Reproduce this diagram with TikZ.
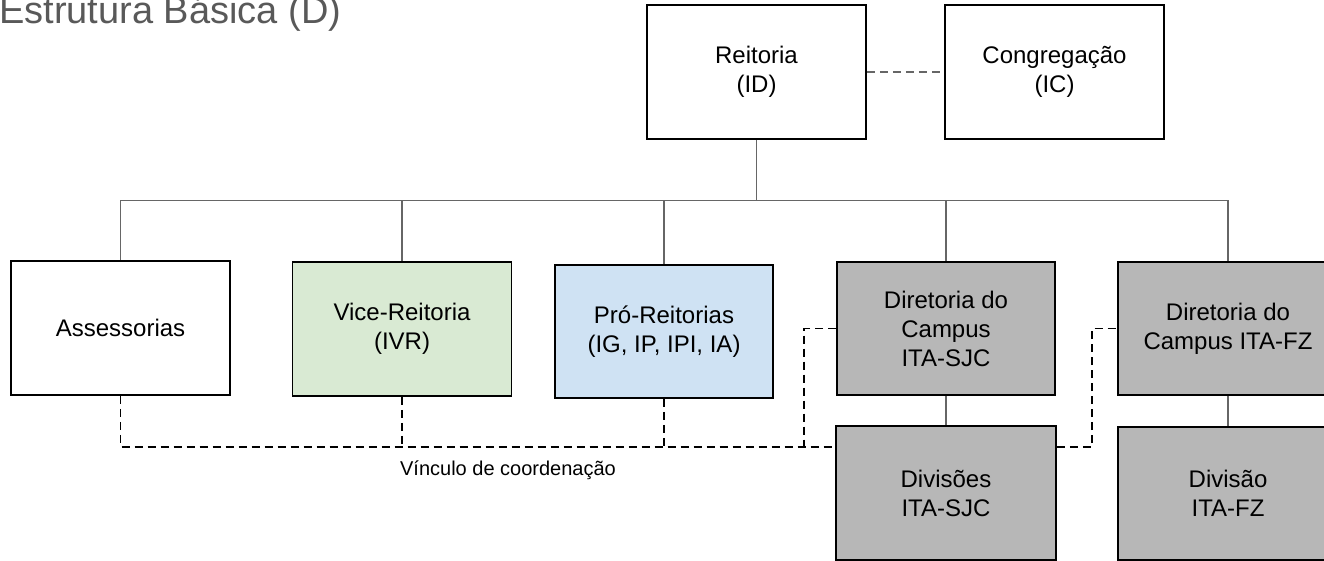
\documentclass[tikz,border=0pt]{standalone}
\usepackage{fontspec}
\setmainfont{Liberation Sans}
\usetikzlibrary{calc}
\definecolor{vicegreen}{HTML}{D9EAD3}
\definecolor{problue}{HTML}{CFE2F3}
\definecolor{campusgray}{HTML}{B7B7B7}
\definecolor{treegray}{HTML}{666666}
\definecolor{titlegray}{HTML}{595959}
\tikzset{
  orgbox/.style={draw=black, line width=1.6pt, minimum width=219pt, minimum height=134pt,
    align=center, inner sep=2pt, font=\fontsize{24}{29}\selectfont},
  treeline/.style={draw=treegray, line width=1.4pt},
  coordline/.style={draw=black, line width=1.8pt, dash pattern=on 8pt off 5pt},
  peerline/.style={draw=treegray, line width=1.6pt, dash pattern=on 8pt off 5pt},
}
\begin{document}
\begin{tikzpicture}[x=1pt,y=-1pt]
\useasboundingbox (0,0) rectangle (1324,561);
\clip (0,0) rectangle (1324,561);
\node[anchor=base west, text=titlegray, font=\fontsize{38}{40}\selectfont, inner sep=0pt] (title) at (-1,24) {Estrutura Básica (D)};

\node[orgbox] (reit) at (756.5,72) {Reitoria\\(ID)};
\node[orgbox] (cong) at (1054.5,72) {Congregação\\(IC)};

\node[orgbox] (ass) at (120.5,328) {Assessorias};
\node[orgbox, fill=vicegreen] (vice) at (402,329) {Vice-Reitoria\\(IVR)};
\node[orgbox, fill=problue, minimum width=218pt, minimum height=133pt] (pro) at (664,331.5) {Pró-Reitorias\\(IG, IP, IPI, IA)};
\node[orgbox, fill=campusgray, minimum width=218pt, minimum height=133pt] (dsjc) at (946,328.5) {Diretoria do\\Campus\\ITA-SJC};
\node[orgbox, fill=campusgray, minimum width=220pt, minimum height=133pt] (dfz) at (1228,328.5) {Diretoria do\\Campus ITA-FZ};
\node[orgbox, fill=campusgray, minimum width=220pt] (divs) at (946,493) {Divisões\\ITA-SJC};
\node[orgbox, fill=campusgray, minimum width=220pt, minimum height=133pt] (divfz) at (1228,493.5) {Divisão\\ITA-FZ};

\node[font=\fontsize{20}{24}\selectfont, inner sep=0pt] (vinc) at (508,470) {Vínculo de coordenação};

% peer link
\draw[peerline] (reit.east) -- (cong.west);

% tree
\coordinate (bus) at ($(reit.south)+(0,61)$);
\draw[treeline] (reit.south) -- (bus);
\draw[treeline] (bus) -| (ass.north);
\draw[treeline] (bus) -| (vice.north);
\draw[treeline] (bus) -| (pro.north);
\draw[treeline] (bus) -| (dsjc.north);
\draw[treeline] (bus) -| (dfz.north);
\draw[treeline] (dsjc.south) -- (divs.north);
\draw[treeline] (dfz.south) -- (divfz.north);

% coordination links
\coordinate (lk) at ($(ass.south)+(0,51)$);
\draw[coordline] (ass.south) -- (lk) -- (lk -| divs.west);
\draw[coordline] (vice.south) -- (vice.south |- lk);
\draw[coordline] (pro.south) -- (pro.south |- lk);
\draw[coordline] (dsjc.west) -| ($(dsjc.west |- lk)+(-32,0)$);
\draw[coordline] (divs.east |- lk) -| ($(dfz.west)+(-25,0)$) -- (dfz.west);
\end{tikzpicture}
\end{document}
